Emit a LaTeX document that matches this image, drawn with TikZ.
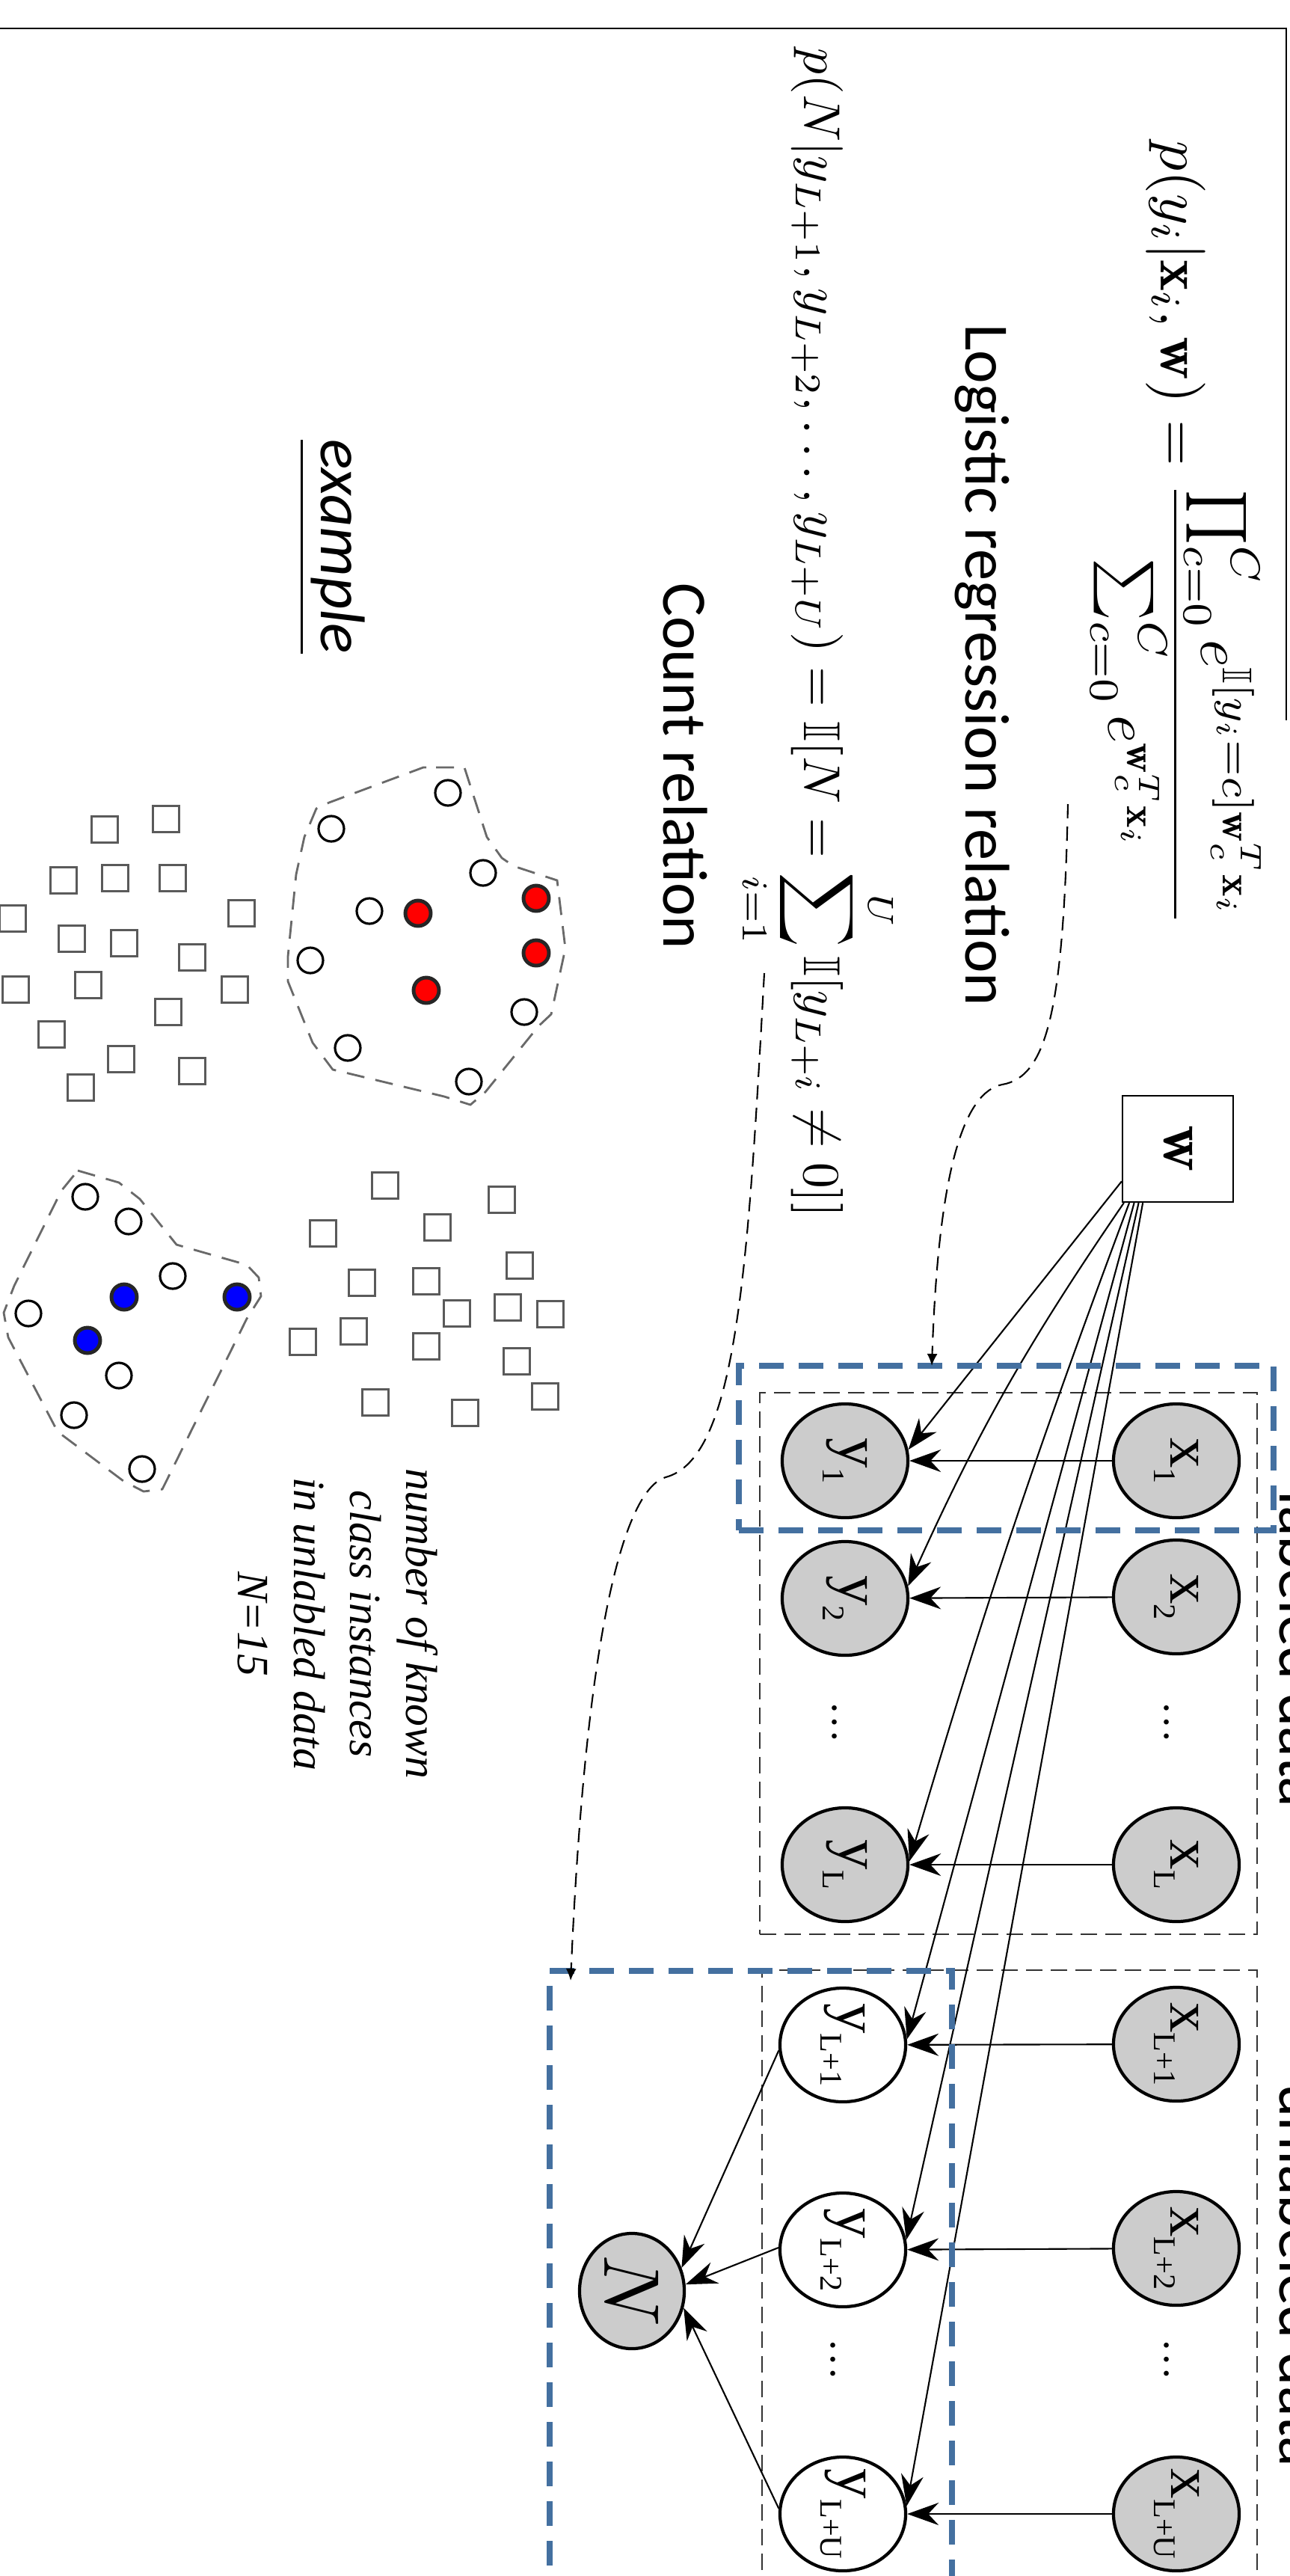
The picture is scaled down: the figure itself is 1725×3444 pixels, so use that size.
\documentclass[tikz,border=0pt]{standalone}
\usepackage{fontspec}
\usepackage{amssymb}
\usetikzlibrary{arrows.meta,shapes.geometric}
\newfontfamily\carlito{Carlito}
\newfontfamily\tnr{Liberation Serif}
\definecolor{steel}{RGB}{68,112,160}
\definecolor{ngray}{RGB}{204,204,204}
\definecolor{sqgray}{RGB}{90,90,90}
\definecolor{polygray}{RGB}{105,105,105}
\newcommand\sbs[1]{\raisebox{-6.5pt}{\fontsize{12}{12}\selectfont #1}}
\begin{document}
\begin{tikzpicture}[x=0.01cm, y=-0.01cm,
  obs/.style={draw, ellipse, line width=1.2pt, fill=ngray, minimum width=1.68cm, minimum height=1.52cm, inner sep=0pt},
  hid/.style={obs, fill=white},
  lbl/.style={rotate=-90, font=\tnr\fontsize{23}{23}\selectfont, inner sep=0pt},
  rtext/.style={rotate=-90, anchor=base, inner sep=0pt, font=\carlito\fontsize{24}{24}\selectfont},
  arr/.style={-{Stealth[length=4.2mm,width=3mm,inset=1.4mm]}, line width=0.6pt},
  dcurve/.style={dash pattern=on 1.9mm off 1.1mm, line width=0.6pt, -{Latex[length=1.6mm,width=1.4mm]}},
  bluebox/.style={draw=steel, line width=2.2pt, dash pattern=on 3.3mm off 2mm, inner sep=0pt, outer sep=0pt},
  thinbox/.style={draw=black!80, line width=0.5pt, dash pattern=on 2.2mm off 1.1mm, inner sep=0pt, outer sep=0pt},
  sq/.style={draw=sqgray, line width=0.8pt},
  oc/.style={draw=black, line width=0.9pt},
  fc/.style={draw=black!85, line width=1.4pt},
  poly/.style={draw=polygray, line width=0.8pt, dash pattern=on 2.4mm off 1.5mm},
  dots/.style={rotate=-90, inner sep=0pt, font=\tnr\fontsize{16}{16}\selectfont}
]
\useasboundingbox (0,0) rectangle (1725,3444);
\clip (0,0) rectangle (1725,3444);

% slide border
\draw[line width=0.8pt] (0,38) -- (1720,38) -- (1720,963);

% formulas and captions
\node[rotate=-90, scale=2.26, inner sep=0pt, anchor=base] (f1) at (1552,713)
  {$\displaystyle p(y_i|\mathbf{x}_i,\mathbf{w}) = \frac{\prod_{\smash{c=0}}^{C} e^{\mathbb{I}[y_i=c]\mathbf{w}_c^T\mathbf{x}_i}}{\sum_{c=0}^{C} e^{\mathbf{w}_c^T\mathbf{x}_i}}$};
\node[rotate=-90, scale=1.97, inner sep=0pt] (f2) at (1094,846)
  {$\displaystyle p(N|y_{L+1},y_{L+2},\ldots,y_{L+U}) = \mathbb{I}[N=\sum_{i=1}^{U}\mathbb{I}[y_{L+i}\neq 0]]$};
\node[rtext] (logi) at (1291,889) {Logistic regression relation};
\node[rtext] (count) at (887,1024) {Count relation};
\node[rtext, font=\carlito\itshape\fontsize{24}{24}\selectfont] (ex) at (429,731) {\underline{example}};
\node[rtext] (labt) at (1711,2205) {labeled data};
\node[rtext] (unlabt) at (1711,3042) {unlabeled data};
\node[rotate=-90, align=center, inner sep=0pt, font=\tnr\itshape\fontsize{17}{21.3}\selectfont] (note) at (452,2171)
  {number of known\\class instances\\in unlabled data\\N=15};

% thin dashed plates
\node[thinbox, minimum width=6.65cm, minimum height=7.24cm] (plab) at (1348.5,2224) {};
\node[thinbox, minimum width=6.62cm, minimum height=8.66cm] (punl) at (1350,3067) {};

% graph nodes
\node[draw, line width=0.6pt, minimum width=1.48cm, minimum height=1.42cm, inner sep=0pt,
      label={[rotate=-90,scale=2.45]center:$\mathbf{w}$}] (w) at (1575,1536) {};

\node[obs, label={[lbl]center:{x\sbs{1}}}] (x1) at (1573,1953) {};
\node[obs, label={[lbl]center:{x\sbs{2}}}] (x2) at (1573,2135) {};
\node[dots] (dx1) at (1560,2303) {…};
\node[obs, label={[lbl]center:{x\sbs{L}}}] (xL) at (1573,2493) {};
\node[obs, label={[lbl]center:{x\sbs{L+1}}}] (xLa) at (1573,2733) {};
\node[obs, label={[lbl]center:{x\sbs{L+2}}}] (xLb) at (1573,3006) {};
\node[dots] (dx2) at (1560,3155) {…};
\node[obs, label={[lbl]center:{x\sbs{L+U}}}] (xLU) at (1573,3361) {};

\node[obs, label={[lbl]center:{y\sbs{1}}}] (y1) at (1130,1953) {};
\node[obs, label={[lbl]center:{y\sbs{2}}}] (y2) at (1130,2137) {};
\node[dots] (dy1) at (1116,2303) {…};
\node[obs, label={[lbl]center:{y\sbs{L}}}] (yL) at (1130,2493) {};
\node[hid, label={[lbl]center:{y\sbs{L+1}}}] (yLa) at (1127,2734) {};
\node[hid, label={[lbl]center:{y\sbs{L+2}}}] (yLb) at (1127,3008) {};
\node[dots] (dy2) at (1114,3155) {…};
\node[hid, label={[lbl]center:{y\sbs{L+U}}}] (yLU) at (1127,3361) {};

\node[obs, minimum width=1.4cm, minimum height=1.54cm, label={[rotate=-90,scale=3]center:$N$}] (N) at (845,3063) {};

% edges
\foreach \a/\b in {x1/y1, x2/y2, xL/yL, xLa/yLa, xLb/yLb, xLU/yLU}
  \draw[arr] (\a) -- (\b);
\draw[arr] (w.210) -- (y1.10);
\draw[arr] (w.225) to[bend right=5] (y2.11);
\draw[arr] (w.228) to[bend right=2] (yL.3);
\draw[arr] (w.231) -- (yLa.5);
\draw[arr] (w.234) -- (yLb.9);
\draw[arr] (w.237) -- (yLU.7);
\draw[arr] (yLa.185) -- (N.25);
\draw[arr] (yLb.178) -- (N.7);
\draw[arr] (yLU.175) -- (N.-18);

% blue dashed boxes
\node[bluebox, minimum width=7.15cm, minimum height=2.2cm] (b1) at (1345.5,1936) {};
\node[bluebox, minimum width=5.38cm, minimum height=8.65cm] (b2) at (1004,3067.5) {};

% dashed pointers
\coordinate (c1s) at (1428,1075);
\coordinate (c1e) at (1246,1826);
\draw[dcurve] (c1s) .. controls (1422,1350) and (1400,1440) .. (1340,1450)
   .. controls (1290,1460) and (1255,1560) .. (c1e);
\coordinate (c2s) at (1022,1301);
\coordinate (c2e) at (763,2648);
\draw[dcurve] (c2s) .. controls (1000,1700) and (985,1950) .. (890,1975)
   .. controls (840,1990) and (785,2150) .. (c2e);

% example: red cluster
\draw[poly] (583,1026) -- (621,1026) -- (651,1119) -- (671,1147) -- (687,1158) -- (745,1177) -- (756,1268) -- (737,1356) -- (720,1372) -- (649,1460) -- (629,1477) -- (594,1466) -- (445,1430) -- (418,1394) -- (385,1312) -- (385,1279) -- (396,1169) -- (407,1119) -- (423,1081) -- (440,1073) -- (566,1026) -- cycle;
\foreach \cx/\cy in {599/1060, 443/1108, 646/1167, 494/1218, 415/1284, 701/1353, 465/1401, 627/1446}
  \draw[oc] (\cx,\cy) circle[radius=17];
\foreach \cx/\cy in {717/1201, 559/1221, 717/1274, 570/1324}
  \draw[fc, fill=red] (\cx,\cy) circle[radius=17];

% example: blue cluster
\draw[poly] (104,1565) -- (159,1581) -- (187,1603) -- (236,1664) -- (253,1669) -- (330,1691) -- (346,1708) -- (349,1733) -- (330,1763) -- (217,1991) -- (192,1994) -- (165,1980) -- (77,1914) -- (11,1788) -- (5,1755) -- (19,1719) -- (82,1592) -- cycle;
\foreach \cx/\cy in {114/1600, 172/1633, 231/1706, 38/1756, 159/1839, 99/1892, 190/1964}
  \draw[oc] (\cx,\cy) circle[radius=17];
\foreach \cx/\cy in {166/1734, 317/1734, 117/1792}
  \draw[fc, fill=blue] (\cx,\cy) circle[radius=17];

% example: unlabeled squares
\foreach \cx/\cy in {140/1109, 222/1095, 85/1177, 154/1174, 231/1174, 17/1228, 323/1221, 96/1255, 166/1261, 257/1280, 21/1323, 118/1317, 314/1323, 225/1353, 69/1383, 162/1416, 257/1432, 108/1454,
  515/1585, 671/1604, 432/1649, 585/1641, 695/1692, 484/1715, 570/1713, 611/1756, 679/1748, 736/1757, 405/1794, 473/1780, 570/1800, 691/1820, 729/1867, 502/1875, 622/1889}
  \draw[sq] (\cx-17.5,\cy-17.5) rectangle (\cx+17.5,\cy+17.5);
\end{tikzpicture}
\end{document}
